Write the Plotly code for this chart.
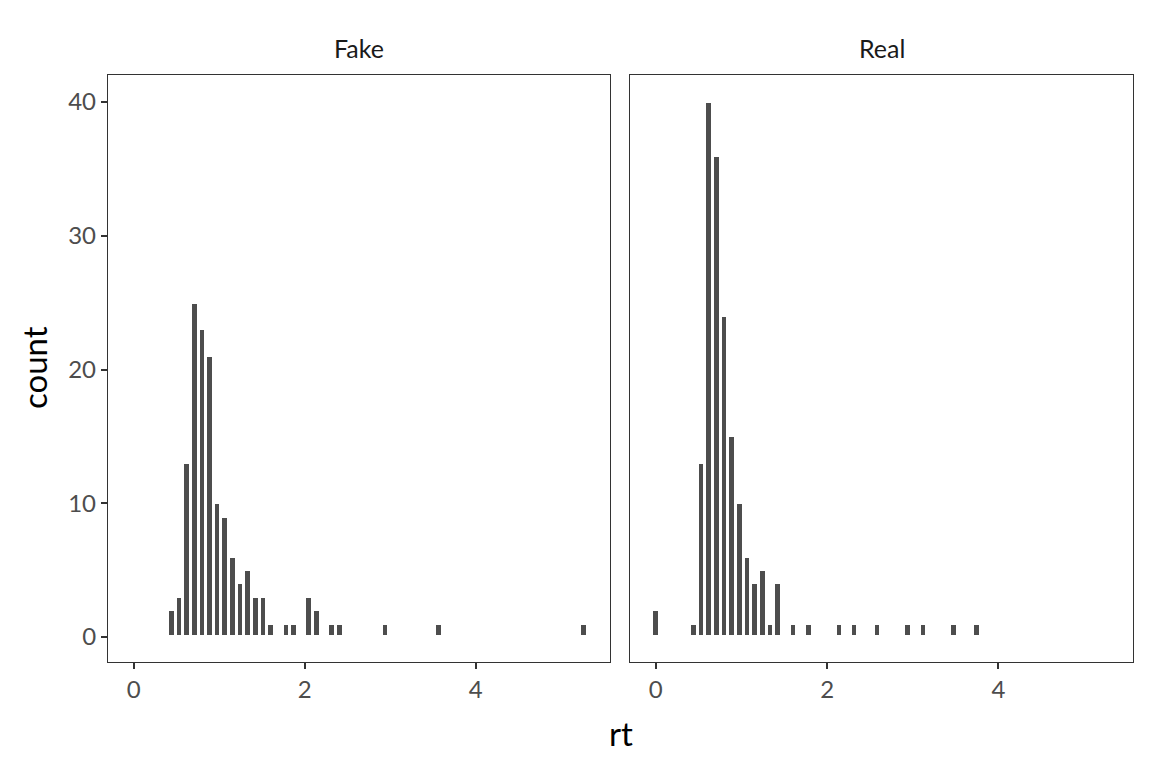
import plotly.graph_objects as go

# Histogram data (ggplot-style, 60 bins over the shared rt range)
BINWIDTH = 0.0893
fake_bins = [5, 6, 7, 8, 9, 10, 11, 12, 13, 14, 15, 16, 17, 18, 20, 21, 23, 24, 26, 27, 33, 40, 59]
fake_counts = [2, 3, 13, 25, 23, 21, 10, 9, 6, 4, 5, 3, 3, 1, 1, 1, 3, 2, 1, 1, 1, 1, 1]
real_bins = [0, 5, 6, 7, 8, 9, 10, 11, 12, 13, 14, 15, 16, 18, 20, 24, 26, 29, 33, 35, 39, 42]
real_counts = [2, 1, 13, 40, 36, 24, 15, 10, 6, 4, 5, 1, 4, 1, 1, 1, 1, 1, 1, 1, 1, 1]
panels = ["Fake", "Real"]
x_ticks = [0, 2, 4]
y_ticks = [0, 10, 20, 30, 40]

FILL = "#4D4D4D"
FONT = "Lato"

fig = go.Figure()
for i, (bins, counts) in enumerate([(fake_bins, fake_counts), (real_bins, real_counts)]):
    xs = [b * BINWIDTH for b in bins]
    fig.add_trace(go.Bar(
        x=xs, y=counts, width=BINWIDTH,
        marker=dict(color=FILL, line=dict(color="white", width=3)),
        xaxis="x" if i == 0 else "x2", yaxis="y" if i == 0 else "y2",
        showlegend=False, hoverinfo="x+y",
    ))

W, H = 1144, 760
OFF = 8  # page body margin


def px(x):
    return (x - OFF) / W


def py(y):
    return (H - (y - OFF)) / H


xd1 = [px(108), px(610)]
xd2 = [px(630), px(1133)]
yd = [py(662), py(75)]
xr = [-0.30, 5.57]
yr = [-1.87, 42.02]

axis_common = dict(
    showgrid=False, zeroline=False, showline=True, linecolor="#333333", linewidth=1.3,
    mirror=True, ticklen=6, tickwidth=2, tickcolor="#333333",
    tickfont=dict(family=FONT, size=24, color="#4D4D4D"),
)

fig.update_layout(
    width=W, height=H, margin=dict(l=0, r=0, t=0, b=0),
    paper_bgcolor="white", plot_bgcolor="white", bargap=0,
    xaxis=dict(domain=xd1, range=xr, tickvals=x_ticks, anchor="y", ticks="outside", **axis_common),
    xaxis2=dict(domain=xd2, range=xr, tickvals=x_ticks, anchor="y2", ticks="outside", **axis_common),
    yaxis=dict(domain=yd, range=yr, tickvals=y_ticks, anchor="x", ticks="outside", **axis_common),
    yaxis2=dict(domain=yd, range=yr, tickvals=y_ticks, anchor="x2", showticklabels=False,
                ticks="", **axis_common),
    annotations=[
        dict(text=panels[0], x=(xd1[0] + xd1[1]) / 2, y=py(48), xref="paper", yref="paper",
             showarrow=False, font=dict(family=FONT, size=25, color="#1A1A1A"),
             xanchor="center", yanchor="middle"),
        dict(text=panels[1], x=(xd2[0] + xd2[1]) / 2, y=py(48), xref="paper", yref="paper",
             showarrow=False, font=dict(family=FONT, size=25, color="#1A1A1A"),
             xanchor="center", yanchor="middle"),
        dict(text="rt", x=(xd1[0] + xd2[1]) / 2, y=py(733), xref="paper", yref="paper",
             showarrow=False, font=dict(family=FONT, size=33, color="black"),
             xanchor="center", yanchor="middle"),
        dict(text="count", x=px(34), y=py(368), xref="paper", yref="paper", textangle=-90,
             showarrow=False, font=dict(family=FONT, size=33, color="black"),
             xanchor="center", yanchor="middle"),
    ],
)

fig.write_html("out.html")
